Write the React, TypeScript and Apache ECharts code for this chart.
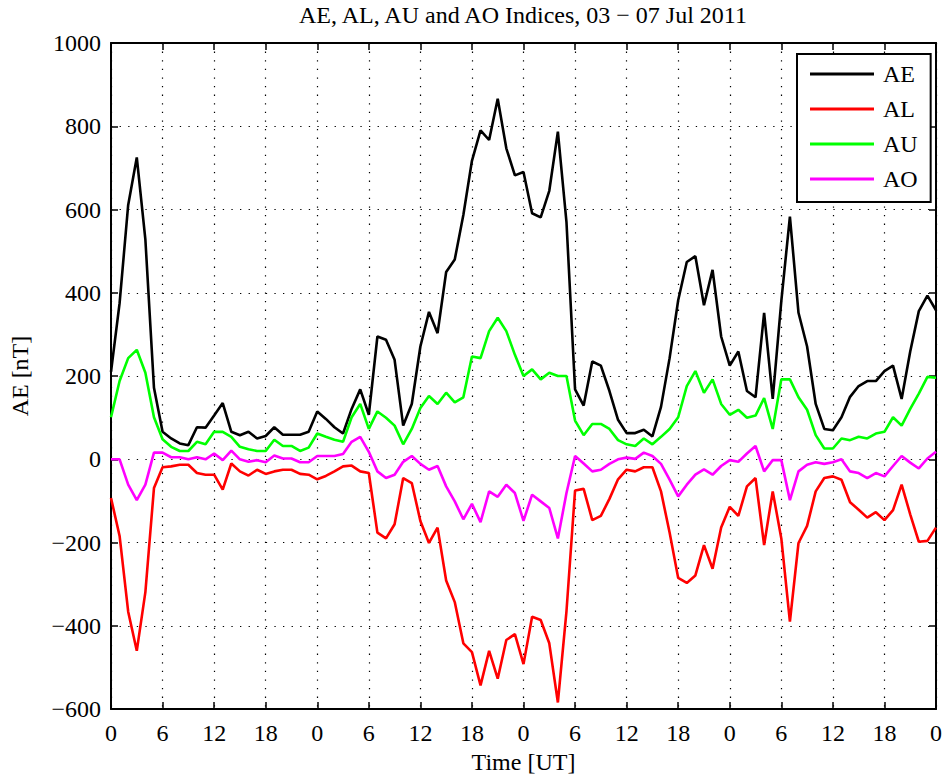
import React, { useEffect, useRef } from "react";
import * as echarts from "echarts";

// Hourly geomagnetic auroral indices, 03 Jul 2011 00 UT to 07 Jul 2011 00 UT (nT)
const seriesNames = ["AE", "AL", "AU", "AO"];

const aeValues = [
  210, 375, 611, 725, 528, 172, 66, 50, 38, 34, 77, 76, 105, 135, 66, 58, 66, 50, 56, 77, 59, 59, 59, 66,
  115, 97, 77, 62, 121, 168, 107, 295, 287, 239, 81, 133, 271, 354, 303, 450, 480, 587, 717, 790, 767, 866, 747, 682,
  690, 591, 581, 645, 787, 570, 168, 129, 235, 225, 164, 95, 63, 63, 71, 55, 126, 243, 382, 474, 488, 370, 455, 295,
  225, 259, 164, 149, 352, 145, 380, 583, 352, 271, 133, 73, 70, 101, 150, 176, 188, 188, 212, 225, 145, 259, 356, 393,
  358,
];

const alValues = [
  -93, -184, -366, -460, -319, -69, -19, -17, -13, -13, -33, -37, -37, -73, -10, -29, -39, -25, -35, -29, -25, -25, -35, -37,
  -48, -40, -29, -17, -15, -29, -33, -176, -190, -156, -45, -57, -148, -201, -164, -291, -343, -442, -463, -543, -460, -527, -434, -420,
  -492, -378, -386, -442, -584, -365, -75, -71, -146, -136, -95, -48, -25, -29, -19, -19, -77, -176, -285, -297, -279, -206, -263, -164,
  -114, -136, -65, -45, -206, -77, -190, -390, -201, -160, -77, -45, -41, -49, -103, -121, -140, -127, -146, -122, -61, -132, -198, -196,
  -164,
];

const auValues = [
  101, 188, 243, 263, 208, 101, 48, 30, 20, 20, 42, 36, 66, 66, 54, 30, 24, 20, 20, 47, 32, 32, 20, 28,
  62, 54, 47, 42, 101, 133, 73, 115, 100, 81, 36, 73, 123, 152, 133, 160, 137, 149, 247, 243, 308, 340, 308, 251,
  200, 216, 192, 208, 200, 200, 93, 58, 85, 85, 73, 46, 36, 32, 50, 36, 54, 73, 101, 176, 212, 160, 192, 133,
  107, 119, 100, 105, 147, 73, 192, 192, 149, 119, 58, 26, 26, 50, 46, 54, 50, 62, 66, 101, 81, 121, 158, 198,
  196,
];

const aoValues = [
  0, 0, -61, -98, -61, 16, 16, 5, 5, 0, 5, 0, 14, -2, 21, 0, -6, -2, -7, 9, 2, 2, -7, -7,
  8, 8, 8, 13, 42, 54, 18, -29, -45, -37, -6, 8, -11, -25, -16, -65, -101, -144, -107, -151, -77, -90, -61, -81,
  -148, -85, -101, -117, -190, -81, 8, -10, -29, -25, -11, 0, 4, 1, 16, 8, -11, -49, -89, -61, -37, -24, -37, -16,
  -2, -6, 14, 32, -29, -2, -2, -98, -29, -13, -7, -11, -7, 0, -29, -33, -45, -33, -41, -16, 8, -8, -22, 2,
  18,
];

const seriesColors = ["#000000", "#ff0000", "#00ff00", "#ff00ff"];

const titleText = "AE, AL, AU and AO Indices, 03 \u2212 07 Jul 2011";
const xAxisName = "Time [UT]";
const yAxisName = "AE [nT]";

const FONT = "'Liberation Serif', 'Times New Roman', Times, serif";

// Values are hourly, so the index of each value is its hour since the start
const toPoints = (values: number[]) => values.map((v, h) => [h, v]);

// Plain integers with a typographic minus sign
const formatValue = (v: number) => String(v).replace("-", "\u2212");

export default function App() {
  const ref = useRef<HTMLDivElement | null>(null);

  useEffect(() => {
    document.body.style.margin = "0";
    if (!ref.current) return;
    const chart = echarts.init(ref.current, undefined, { renderer: "svg" });

    const axisLine = { show: true, onZero: false, lineStyle: { color: "#000", width: 2 } };
    const axisTick = { show: true, inside: true, length: 7, lineStyle: { color: "#000", width: 1.5 } };
    const dotted = { show: true, lineStyle: { color: "#000", width: 1.2, type: [1.3, 7.3] } };
    const labelStyle = { color: "#000", fontSize: 24, fontFamily: FONT };

    const allValues = [aeValues, alValues, auValues, aoValues];

    chart.setOption({
      animation: false,
      backgroundColor: "#ffffff",
      textStyle: { fontFamily: FONT },
      grid: { left: 110, right: 9, top: 43, bottom: 64 },
      graphic: [
        {
          type: "text",
          x: 523,
          y: 15,
          style: {
            text: titleText,
            fontSize: 24,
            fontFamily: FONT,
            fill: "#000",
            textAlign: "center",
            textVerticalAlign: "middle",
          },
        },
      ],
      xAxis: [
        {
          type: "value",
          min: 0,
          max: 96,
          interval: 6,
          position: "bottom",
          axisLine,
          axisTick,
          axisLabel: {
            ...labelStyle,
            margin: 12,
            formatter: (v: number) => String(v % 24),
          },
          splitLine: dotted,
          name: xAxisName,
          nameLocation: "middle",
          nameGap: 37,
          nameTextStyle: { ...labelStyle },
        },
        {
          type: "value",
          min: 0,
          max: 96,
          interval: 6,
          position: "top",
          axisLine,
          axisTick,
          axisLabel: { show: false },
          splitLine: { show: false },
        },
      ],
      yAxis: [
        {
          type: "value",
          min: -600,
          max: 1000,
          interval: 200,
          position: "left",
          axisLine,
          axisTick,
          axisLabel: { ...labelStyle, margin: 10, formatter: formatValue },
          splitLine: dotted,
          name: yAxisName,
          nameLocation: "middle",
          nameGap: 79,
          nameTextStyle: { ...labelStyle },
        },
        {
          type: "value",
          min: -600,
          max: 1000,
          interval: 200,
          position: "right",
          axisLine,
          axisTick,
          axisLabel: { show: false },
          splitLine: { show: false },
        },
      ],
      legend: {
        data: seriesNames,
        orient: "vertical",
        left: 797,
        top: 54,
        padding: [8, 13, 11, 13],
        itemGap: 11,
        itemWidth: 64,
        itemHeight: 3,
        icon: "rect",
        backgroundColor: "#ffffff",
        borderColor: "#000",
        borderWidth: 2,
        borderRadius: 0,
        textStyle: { ...labelStyle, lineHeight: 24, padding: [0, 0, 0, 4] },
      },
      series: seriesNames.map((name, i) => ({
        name,
        type: "line",
        xAxisIndex: 0,
        yAxisIndex: 0,
        data: toPoints(allValues[i]),
        symbol: "none",
        showSymbol: false,
        color: seriesColors[i],
        lineStyle: { color: seriesColors[i], width: 2.6 },
        itemStyle: { color: seriesColors[i] },
        emphasis: { disabled: true },
      })),
    });

    return () => {
      chart.dispose();
    };
  }, []);

  return <div ref={ref} style={{ width: 945, height: 779 }} />;
}
